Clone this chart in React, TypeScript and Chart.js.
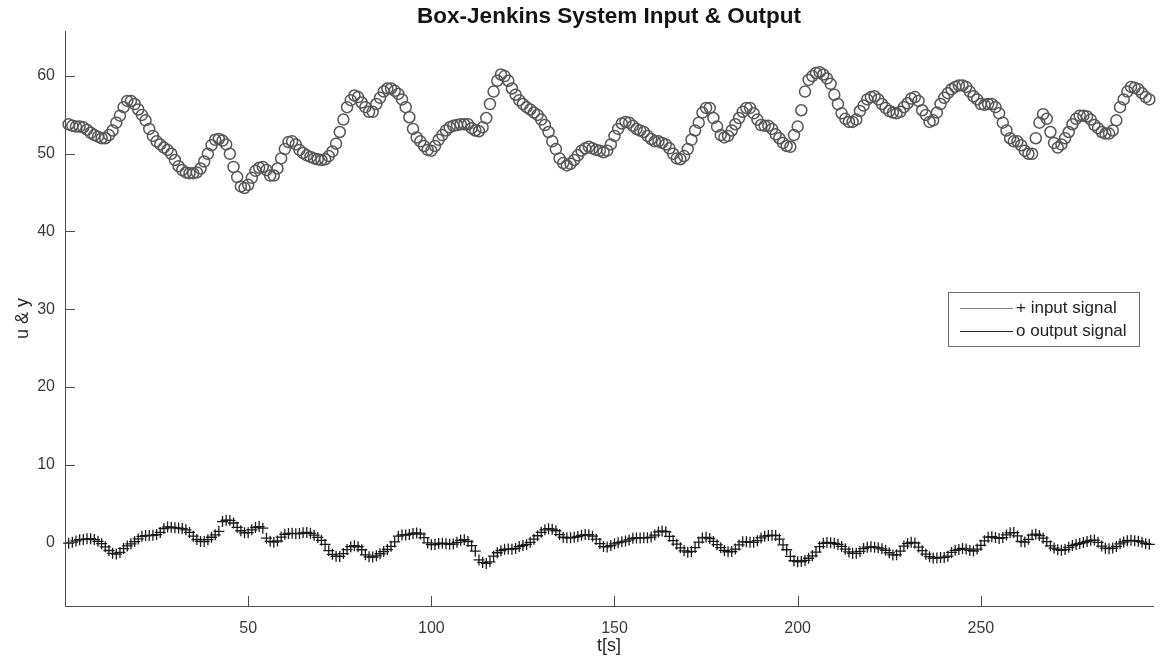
import React, { useEffect, useRef } from "react";
import { Chart, registerables } from "chart.js";

Chart.register(...registerables);

const chartTitle = "Box-Jenkins System Input & Output";
const xAxisLabel = "t[s]";
const yAxisLabel = "u & y";
const legendLabels = ["+ input signal", "o output signal"];
const xTickValues = [50, 100, 150, 200, 250];
const yTickValues = [0, 10, 20, 30, 40, 50, 60];

const inputSignal = [
  -0.109, 0.0, 0.178, 0.339, 0.373, 0.441, 0.461, 0.348, 0.127, -0.18,
  -0.588, -1.055, -1.421, -1.52, -1.302, -0.814, -0.475, -0.193, 0.088, 0.435,
  0.771, 0.866, 0.875, 0.891, 0.987, 1.263, 1.775, 1.976, 1.934, 1.866,
  1.832, 1.767, 1.608, 1.265, 0.79, 0.36, 0.115, 0.088, 0.331, 0.645,
  0.96, 1.409, 2.67, 2.834, 2.812, 2.483, 1.929, 1.485, 1.214, 1.239,
  1.608, 1.905, 2.023, 1.815, 0.535, 0.122, 0.009, 0.164, 0.671, 1.019,
  1.146, 1.155, 1.112, 1.121, 1.223, 1.257, 1.157, 0.913, 0.62, 0.255,
  -0.28, -1.08, -1.551, -1.799, -1.825, -1.456, -0.944, -0.57, -0.431, -0.577,
  -0.96, -1.616, -1.875, -1.891, -1.746, -1.474, -1.201, -0.927, -0.524, 0.04,
  0.788, 0.943, 0.93, 1.006, 1.137, 1.198, 1.054, 0.595, -0.08, -0.314,
  -0.288, -0.153, -0.109, -0.187, -0.255, -0.229, -0.007, 0.254, 0.33, 0.102,
  -0.423, -1.139, -2.275, -2.594, -2.716, -2.51, -1.79, -1.346, -1.081, -0.91,
  -0.876, -0.885, -0.8, -0.544, -0.416, -0.271, 0.0, 0.403, 0.841, 1.285,
  1.607, 1.746, 1.683, 1.485, 0.993, 0.648, 0.577, 0.577, 0.632, 0.747,
  0.9, 0.993, 0.968, 0.79, 0.399, -0.161, -0.553, -0.603, -0.424, -0.194,
  -0.049, 0.06, 0.161, 0.301, 0.517, 0.566, 0.56, 0.573, 0.592, 0.671,
  0.933, 1.337, 1.46, 1.353, 0.772, 0.218, -0.237, -0.714, -1.099, -1.269,
  -1.175, -0.676, 0.033, 0.556, 0.643, 0.484, 0.109, -0.31, -0.697, -1.047,
  -1.218, -1.183, -0.873, -0.336, 0.063, 0.084, 0.0, 0.001, 0.209, 0.556,
  0.782, 0.858, 0.918, 0.862, 0.416, -0.336, -0.959, -1.813, -2.378, -2.499,
  -2.473, -2.33, -2.053, -1.739, -1.261, -0.569, -0.137, -0.024, -0.05, -0.135,
  -0.276, -0.534, -0.871, -1.243, -1.439, -1.422, -1.175, -0.813, -0.634, -0.582,
  -0.625, -0.713, -0.848, -1.039, -1.346, -1.628, -1.619, -1.149, -0.488, -0.16,
  -0.007, -0.092, -0.62, -1.086, -1.525, -1.858, -2.029, -2.024, -1.961, -1.952,
  -1.794, -1.302, -1.03, -0.918, -0.798, -0.867, -1.047, -1.123, -0.876, -0.395,
  0.185, 0.662, 0.709, 0.605, 0.501, 0.603, 0.943, 1.223, 1.249, 0.824,
  0.102, 0.025, 0.382, 0.922, 1.032, 0.866, 0.527, 0.093, -0.458, -0.748,
  -0.947, -1.029, -0.928, -0.645, -0.424, -0.276, -0.158, -0.033, 0.102, 0.251,
  0.28, 0.0, -0.493, -0.759, -0.824, -0.74, -0.528, -0.204, 0.034, 0.204,
  0.253, 0.195, 0.131, 0.017, -0.182, -0.262,
];

const outputSignal = [
  53.8, 53.6, 53.5, 53.5, 53.4, 53.1, 52.7, 52.4, 52.2, 52.0,
  52.0, 52.4, 53.0, 54.0, 54.9, 56.0, 56.8, 56.8, 56.4, 55.7,
  55.0, 54.3, 53.2, 52.3, 51.6, 51.2, 50.8, 50.5, 50.0, 49.2,
  48.4, 47.9, 47.6, 47.5, 47.5, 47.6, 48.1, 49.0, 50.0, 51.1,
  51.8, 51.9, 51.7, 51.2, 50.0, 48.3, 47.0, 45.8, 45.6, 46.0,
  46.9, 47.8, 48.2, 48.3, 47.9, 47.2, 47.2, 48.1, 49.4, 50.6,
  51.5, 51.6, 51.2, 50.5, 50.1, 49.8, 49.6, 49.4, 49.3, 49.2,
  49.3, 49.7, 50.3, 51.3, 52.8, 54.4, 56.0, 56.9, 57.5, 57.3,
  56.6, 56.0, 55.4, 55.4, 56.4, 57.2, 58.0, 58.4, 58.4, 58.1,
  57.7, 57.0, 56.0, 54.7, 53.2, 52.1, 51.6, 51.0, 50.5, 50.4,
  51.0, 51.8, 52.4, 53.0, 53.4, 53.6, 53.7, 53.8, 53.8, 53.8,
  53.3, 53.0, 52.9, 53.4, 54.6, 56.4, 58.0, 59.4, 60.2, 60.0,
  59.4, 58.4, 57.6, 56.9, 56.4, 56.0, 55.7, 55.3, 55.0, 54.4,
  53.7, 52.8, 51.6, 50.6, 49.4, 48.8, 48.5, 48.7, 49.2, 49.8,
  50.4, 50.7, 50.9, 50.7, 50.5, 50.4, 50.2, 50.4, 51.2, 52.3,
  53.2, 53.9, 54.1, 54.0, 53.6, 53.2, 53.0, 52.8, 52.3, 51.9,
  51.6, 51.6, 51.4, 51.2, 50.7, 50.0, 49.4, 49.3, 49.7, 50.6,
  51.8, 53.0, 54.0, 55.3, 55.9, 55.9, 54.6, 53.5, 52.4, 52.1,
  52.3, 53.0, 53.8, 54.6, 55.4, 55.9, 55.9, 55.2, 54.4, 53.7,
  53.6, 53.6, 53.2, 52.5, 52.0, 51.4, 51.0, 50.9, 52.4, 53.5,
  55.6, 58.0, 59.5, 60.0, 60.4, 60.5, 60.2, 59.7, 59.0, 57.6,
  56.4, 55.2, 54.5, 54.1, 54.1, 54.4, 55.5, 56.2, 57.0, 57.3,
  57.4, 57.0, 56.4, 55.9, 55.5, 55.3, 55.2, 55.4, 56.0, 56.5,
  57.1, 57.3, 56.8, 55.6, 55.0, 54.1, 54.3, 55.3, 56.4, 57.2,
  57.8, 58.3, 58.6, 58.8, 58.8, 58.6, 58.0, 57.4, 57.0, 56.4,
  56.3, 56.4, 56.4, 56.0, 55.2, 54.0, 53.0, 52.0, 51.6, 51.6,
  51.1, 50.4, 50.0, 50.0, 52.0, 54.0, 55.1, 54.5, 52.8, 51.4,
  50.8, 51.2, 52.0, 52.8, 53.8, 54.5, 54.9, 54.9, 54.8, 54.4,
  53.7, 53.3, 52.8, 52.6, 52.6, 53.0, 54.3, 56.0, 57.0, 58.0,
  58.6, 58.5, 58.3, 57.8, 57.3, 57.0,
];

const timeSteps = inputSignal.map((_, i) => i + 1);

const FONT = "'Liberation Sans', Arial, Helvetica, sans-serif";

const matlabDecor = {
  id: "matlabDecor",
  afterDraw(chart: any) {
    const { ctx, chartArea, scales } = chart;
    ctx.save();
    // title centred over the plot area
    ctx.fillStyle = "#141414";
    ctx.font = `bold 22.5px ${FONT}`;
    ctx.textAlign = "center";
    ctx.textBaseline = "middle";
    ctx.fillText(chartTitle, (chartArea.left + chartArea.right) / 2, 17);

    // inward tick marks
    ctx.strokeStyle = "#4d4d4d";
    ctx.lineWidth = 1;
    ctx.beginPath();
    xTickValues.forEach((v) => {
      const px = Math.round(scales.x.getPixelForValue(v)) + 0.5;
      ctx.moveTo(px, chartArea.bottom);
      ctx.lineTo(px, chartArea.bottom - 10);
    });
    yTickValues.forEach((v) => {
      const py = Math.round(scales.y.getPixelForValue(v)) + 0.5;
      ctx.moveTo(chartArea.left, py);
      ctx.lineTo(chartArea.left + 10, py);
    });
    ctx.stroke();

    // legend box
    const bx = 948.5, by = 292.5, bw = 191, bh = 54;
    ctx.fillStyle = "#ffffff";
    ctx.fillRect(bx, by, bw, bh);
    ctx.strokeStyle = "#6f6f6f";
    ctx.lineWidth = 1;
    ctx.strokeRect(bx, by, bw, bh);
    const rows = [308, 331];
    const lineColors = ["#8a8a8a", "#2a2a2a"];
    ctx.font = `17px ${FONT}`;
    ctx.textBaseline = "middle";
    ctx.textAlign = "left";
    legendLabels.forEach((lab, i) => {
      ctx.strokeStyle = lineColors[i];
      ctx.beginPath();
      ctx.moveTo(960, rows[i] + 0.5);
      ctx.lineTo(1013, rows[i] + 0.5);
      ctx.stroke();
      ctx.fillStyle = "#222222";
      ctx.fillText(lab, 1016, rows[i]);
    });
    ctx.restore();
  },
};

export default function App() {
  const canvasRef = useRef<HTMLCanvasElement | null>(null);

  useEffect(() => {
    const canvas = canvasRef.current;
    if (!canvas) return;
    const chart = new Chart(canvas, {
      type: "scatter",
      data: {
        datasets: [
          {
            label: legendLabels[0],
            data: timeSteps.map((t, i) => ({ x: t, y: inputSignal[i] })),
            showLine: false,
            pointStyle: "cross",
            pointRadius: 5.5,
            pointBorderColor: "#1a1a1a",
            pointBorderWidth: 1.3,
            pointBackgroundColor: "#1a1a1a",
            clip: false,
          },
          {
            label: legendLabels[1],
            data: timeSteps.map((t, i) => ({ x: t, y: outputSignal[i] })),
            showLine: false,
            pointStyle: "circle",
            pointRadius: 5.5,
            pointBorderColor: "#555555",
            pointBorderWidth: 1.5,
            pointBackgroundColor: "rgba(0,0,0,0)",
            clip: false,
          },
        ],
      },
      options: {
        animation: false,
        responsive: false,
        devicePixelRatio: 1,
        layout: { padding: { top: 31, right: 2, left: 0, bottom: 0 } },
        plugins: {
          legend: { display: false },
          tooltip: { enabled: false },
          title: { display: false },
        },
        scales: {
          x: {
            type: "linear",
            min: 0,
            max: 297,
            afterBuildTicks: (scale: any) => {
              scale.ticks = xTickValues.map((v) => ({ value: v }));
            },
            afterFit: (scale: any) => {
              scale.height = 65;
            },
            grid: { display: false },
            border: { display: true, color: "#4d4d4d", width: 1 },
            ticks: {
              color: "#3a3a3a",
              font: { family: FONT, size: 16 },
              padding: 5,
              maxRotation: 0,
              autoSkip: false,
            },
            title: {
              display: true,
              text: xAxisLabel,
              color: "#262626",
              font: { family: FONT, size: 18 },
              padding: { top: 0, bottom: 14 },
            },
          },
          y: {
            type: "linear",
            min: -8.2,
            max: 65.8,
            afterBuildTicks: (scale: any) => {
              scale.ticks = yTickValues.map((v) => ({ value: v }));
            },
            afterFit: (scale: any) => {
              scale.width = 65;
            },
            grid: { display: false },
            border: { display: true, color: "#4d4d4d", width: 1 },
            ticks: {
              color: "#3a3a3a",
              font: { family: FONT, size: 16 },
              padding: 2,
              autoSkip: false,
            },
            title: {
              display: true,
              text: yAxisLabel,
              color: "#262626",
              font: { family: FONT, size: 18 },
              padding: { top: 12, bottom: 0 },
            },
          },
        },
      },
      plugins: [matlabDecor],
    } as any);
    return () => chart.destroy();
  }, []);

  return (
    <div style={{ position: "absolute", left: 0, top: 0, width: 1160, height: 671, background: "#ffffff" }}>
      <canvas ref={canvasRef} width={1160} height={671} style={{ display: "block" }} />
    </div>
  );
}
